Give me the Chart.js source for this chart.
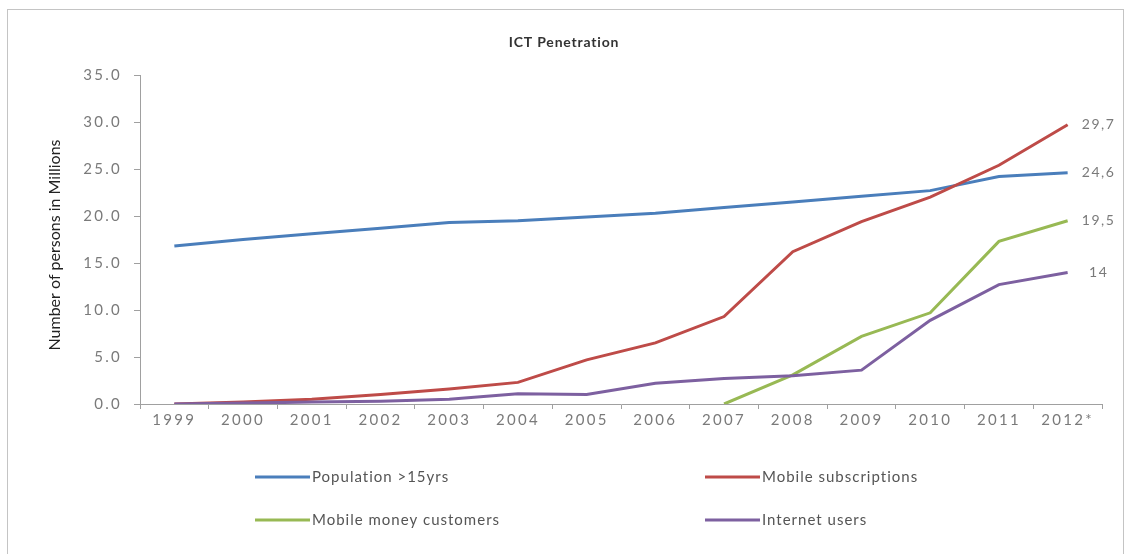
<!DOCTYPE html>
<html>
<head>
<meta charset="utf-8">
<title>ICT Penetration</title>
<script src="https://cdn.jsdelivr.net/npm/chart.js@4.4.1/dist/chart.umd.min.js"></script>
<style>
  html, body { margin: 0; padding: 0; background: #ffffff; }
  #wrap { position: relative; width: 1130px; height: 554px; }
  canvas { display: block; }
</style>
</head>
<body>
<div id="wrap"><canvas id="chart" width="1130" height="554"></canvas></div>
<script>
// Years on the horizontal axis (2012 is an estimate)
const years = ['1999', '2000', '2001', '2002', '2003', '2004', '2005', '2006', '2007', '2008', '2009', '2010', '2011', '2012*'];

// Millions of persons per year
const population = [16.8, 17.5, 18.1, 18.7, 19.3, 19.5, 19.9, 20.3, 20.9, 21.5, 22.1, 22.7, 24.2, 24.6];
const mobileSubscriptions = [0.0, 0.2, 0.5, 1.0, 1.6, 2.3, 4.7, 6.5, 9.3, 16.2, 19.4, 22.0, 25.4, 29.7];
const mobileMoney = [null, null, null, null, null, null, null, null, 0.0, 3.1, 7.2, 9.7, 17.3, 19.5];
const internetUsers = [0.0, 0.1, 0.2, 0.3, 0.5, 1.1, 1.0, 2.2, 2.7, 3.0, 3.6, 8.9, 12.7, 14.0];

const seriesNames = ['Population >15yrs', 'Mobile subscriptions', 'Mobile money customers', 'Internet users'];
const seriesColors = ['#4a7ebb', '#be4b48', '#98b954', '#7d60a0'];

const chartTitle = 'ICT Penetration';
const yAxisTitle = 'Number of persons in Millions';

const FONT = 'Lato, "Open Sans", sans-serif';
const TEXT_GRAY = '#7a7a7a';
const AXIS_GRAY = '#a0a0a0';

// Outer frame, and the wide letter spacing used by the tick labels
const framePlugin = {
  id: 'frame',
  beforeDraw(chart) {
    const ctx = chart.ctx;
    ctx.save();
    ctx.fillStyle = '#ffffff';
    ctx.fillRect(0, 0, chart.width, chart.height);
    ctx.strokeStyle = '#c4c4c4';
    ctx.lineWidth = 1;
    ctx.strokeRect(7.5, 9.5, 1116, 600);
    ctx.restore();
    ctx.letterSpacing = '2.3px';
  }
};

// Chart title and the rotated value-axis title
const titlesPlugin = {
  id: 'titles',
  afterDraw(chart) {
    const ctx = chart.ctx;
    ctx.save();
    ctx.letterSpacing = '0.8px';
    ctx.fillStyle = '#333333';
    ctx.font = 'bold 14px ' + FONT;
    ctx.textAlign = 'center';
    ctx.textBaseline = 'middle';
    ctx.fillText(chartTitle, 564, 42);

    ctx.letterSpacing = '0px';
    ctx.fillStyle = '#222222';
    ctx.font = '16px ' + FONT;
    ctx.translate(55, 245);
    ctx.rotate(-Math.PI / 2);
    ctx.fillText(yAxisTitle, 0, 0);
    ctx.restore();
  }
};

// Value of the last point written to the right of each line
const endLabelPlugin = {
  id: 'endLabels',
  afterDatasetsDraw(chart) {
    const ctx = chart.ctx;
    ctx.save();
    ctx.letterSpacing = '1.5px';
    ctx.font = '14px ' + FONT;
    ctx.fillStyle = TEXT_GRAY;
    ctx.textAlign = 'center';
    ctx.textBaseline = 'middle';
    chart.data.datasets.forEach((ds, i) => {
      const meta = chart.getDatasetMeta(i);
      const last = ds.data.length - 1;
      const pt = meta.data[last];
      if (!pt || ds.data[last] == null) return;
      const txt = String(ds.data[last]).replace('.', ',');
      ctx.fillText(txt, pt.x + 31, pt.y);
    });
    ctx.restore();
  }
};

// Two-column legend under the axis
const legendPlugin = {
  id: 'gridLegend',
  afterDraw(chart) {
    const ctx = chart.ctx;
    const cols = [255, 705];
    const rows = [477, 520];
    ctx.save();
    ctx.letterSpacing = '1px';
    ctx.font = '15px ' + FONT;
    ctx.textBaseline = 'middle';
    ctx.textAlign = 'left';
    chart.data.datasets.forEach((ds, i) => {
      const x = cols[i % 2];
      const y = rows[Math.floor(i / 2)];
      ctx.strokeStyle = ds.borderColor;
      ctx.lineWidth = 3;
      ctx.beginPath();
      ctx.moveTo(x, y);
      ctx.lineTo(x + 55, y);
      ctx.stroke();
      ctx.fillStyle = '#555555';
      ctx.fillText(ds.label, x + 57, y);
    });
    ctx.restore();
  }
};

const seriesValues = [population, mobileSubscriptions, mobileMoney, internetUsers];

new Chart(document.getElementById('chart'), {
  type: 'line',
  data: {
    labels: years,
    datasets: seriesValues.map((vals, i) => ({
      label: seriesNames[i],
      data: vals,
      borderColor: seriesColors[i],
      backgroundColor: seriesColors[i],
      borderWidth: 3,
      pointRadius: 0,
      pointHoverRadius: 0,
      tension: 0,
      spanGaps: false,
      order: 4 - i
    }))
  },
  options: {
    responsive: false,
    animation: false,
    events: [],
    layout: { padding: { left: 43, right: 28, top: 75, bottom: 0 } },
    plugins: {
      legend: { display: false },
      tooltip: { enabled: false },
      title: { display: false }
    },
    scales: {
      x: {
        offset: true,
        afterFit(scale) { scale.height = 150; },
        grid: {
          offset: true,
          drawOnChartArea: false,
          drawTicks: true,
          tickLength: 5,
          color: AXIS_GRAY
        },
        border: { display: true, color: AXIS_GRAY, width: 1 },
        ticks: {
          color: TEXT_GRAY,
          font: { family: FONT, size: 15 },
          padding: 2,
          maxRotation: 0,
          autoSkip: false
        }
      },
      y: {
        min: 0,
        max: 35,
        afterFit(scale) { scale.width = 97; },
        grid: {
          drawOnChartArea: false,
          drawTicks: true,
          tickLength: 6,
          color: AXIS_GRAY
        },
        border: { display: true, color: AXIS_GRAY, width: 1 },
        ticks: {
          stepSize: 5,
          color: TEXT_GRAY,
          font: { family: FONT, size: 15 },
          padding: 12,
          callback: (v) => Number(v).toFixed(1)
        }
      }
    }
  },
  plugins: [framePlugin, endLabelPlugin, legendPlugin, titlesPlugin]
});
</script>
</body>
</html>
